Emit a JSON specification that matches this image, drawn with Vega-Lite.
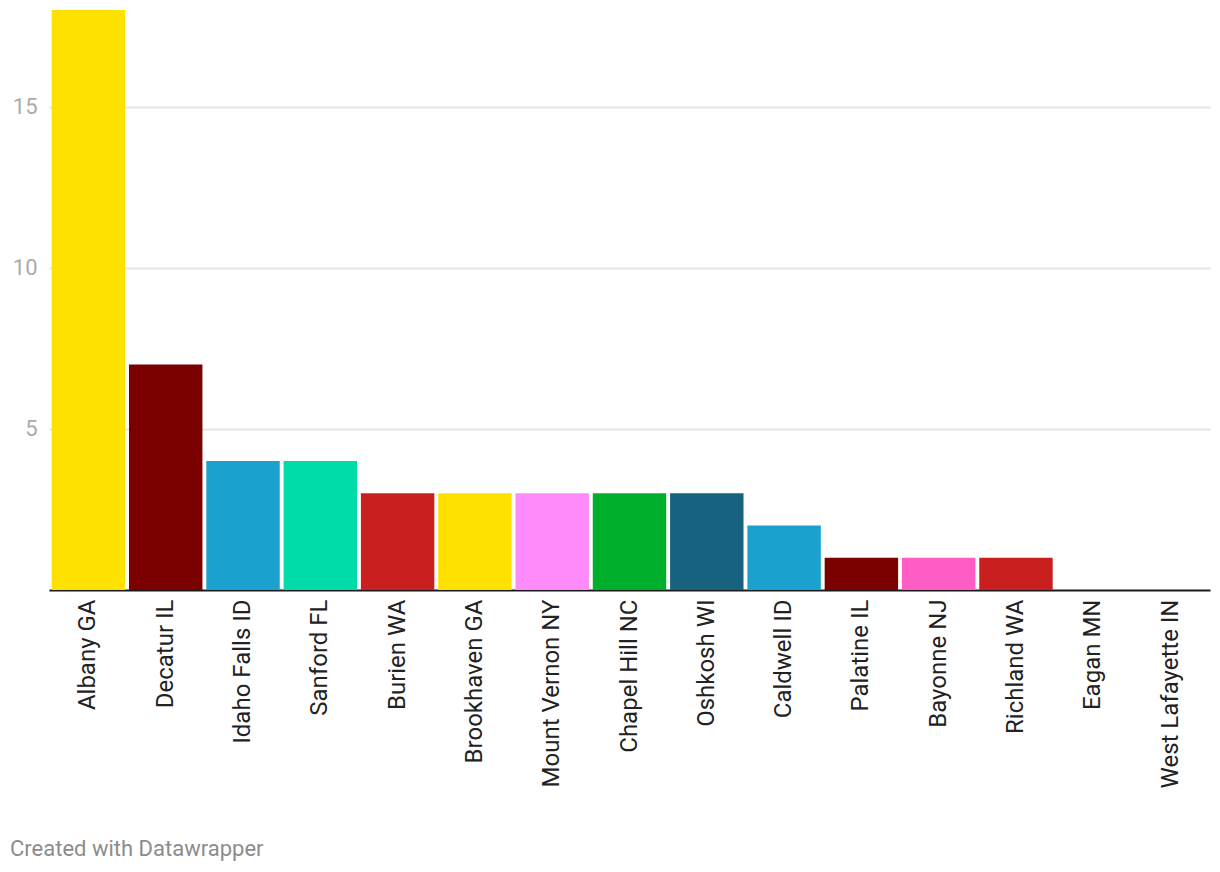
{
  "$schema": "https://vega.github.io/schema/vega-lite/v6.json",
  "width": 1161,
  "height": 580,
  "autosize": {"type": "none"},
  "padding": {"left": 49, "top": 10, "right": 10, "bottom": 282},
  "background": "white",
  "config": {"view": {"stroke": null}, "font": "Roboto"},
  "title": {
    "text": "Created with Datawrapper",
    "orient": "bottom",
    "anchor": "start",
    "frame": "group",
    "dx": -39,
    "offset": 51,
    "fontSize": 22,
    "fontWeight": "normal",
    "color": "#8c8c8c",
    "font": "Roboto"
  },
  "data": {
    "values": [
      {"city": "Albany GA", "value": 18},
      {"city": "Decatur IL", "value": 7},
      {"city": "Idaho Falls ID", "value": 4},
      {"city": "Sanford FL", "value": 4},
      {"city": "Burien WA", "value": 3},
      {"city": "Brookhaven GA", "value": 3},
      {"city": "Mount Vernon NY", "value": 3},
      {"city": "Chapel Hill NC", "value": 3},
      {"city": "Oshkosh WI", "value": 3},
      {"city": "Caldwell ID", "value": 2},
      {"city": "Palatine IL", "value": 1},
      {"city": "Bayonne NJ", "value": 1},
      {"city": "Richland WA", "value": 1},
      {"city": "Eagan MN", "value": 0},
      {"city": "West Lafayette IN", "value": 0}
    ]
  },
  "mark": {"type": "bar"},
  "encoding": {
    "x": {
      "field": "city",
      "type": "nominal",
      "sort": null,
      "scale": {"paddingInner": 0.05, "paddingOuter": 0.035},
      "axis": {
        "title": null,
        "labelAngle": -90,
        "labelFontSize": 24,
        "labelColor": "#222222",
        "labelPadding": 9,
        "labelFont": "Roboto",
        "labelLimit": 400,
        "ticks": false,
        "domainColor": "#1a1a1a",
        "domainWidth": 2
      }
    },
    "y": {
      "field": "value",
      "type": "quantitative",
      "scale": {"domain": [0, 18], "nice": false},
      "axis": {
        "title": null,
        "values": [5, 10, 15],
        "domain": false,
        "ticks": false,
        "labelFontSize": 22,
        "labelColor": "#aaaaaa",
        "labelPadding": 12,
        "labelFont": "Roboto",
        "gridColor": "#e5e5e5",
        "gridWidth": 2
      }
    },
    "color": {
      "field": "city",
      "type": "nominal",
      "sort": null,
      "scale": {
        "domain": ["Albany GA", "Decatur IL", "Idaho Falls ID", "Sanford FL", "Burien WA", "Brookhaven GA", "Mount Vernon NY", "Chapel Hill NC", "Oshkosh WI", "Caldwell ID", "Palatine IL", "Bayonne NJ", "Richland WA", "Eagan MN", "West Lafayette IN"],
        "range": ["#FFE100", "#7B0000", "#1AA1CE", "#00DCA9", "#C91F1F", "#FFE100", "#FF8AFA", "#00AF2C", "#17627E", "#1AA1CE", "#7B0000", "#FF5CC6", "#C91F1F", "#1AA1CE", "#7B0000"]
      },
      "legend": null
    }
  }
}
